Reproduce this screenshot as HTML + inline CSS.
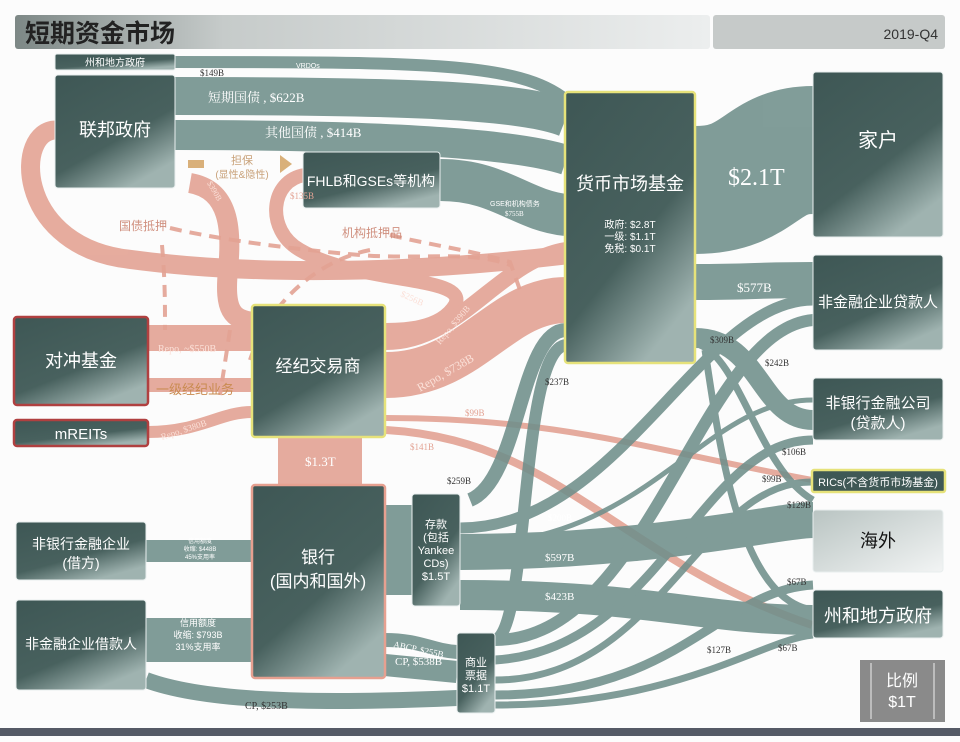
<!DOCTYPE html>
<html><head><meta charset="utf-8">
<style>
html,body{margin:0;padding:0;background:#fff;}
svg{display:block;}
text{font-family:"Liberation Sans","Noto Sans CJK SC",sans-serif;}
.serif text{font-family:"Liberation Serif","Noto Serif CJK SC",serif;}
</style></head><body>
<svg width="960" height="742" viewBox="0 0 960 742" xmlns="http://www.w3.org/2000/svg">
<defs>
<linearGradient id="nd" x1="0" y1="0" x2="0.6" y2="1">
<stop offset="0" stop-color="#3e5755"/><stop offset="0.65" stop-color="#48615e"/><stop offset="1" stop-color="#9fb3b0"/>
</linearGradient>
<linearGradient id="tb" x1="0" y1="0" x2="1" y2="0">
<stop offset="0" stop-color="#7d8886"/><stop offset="0.3" stop-color="#c6cbca"/><stop offset="1" stop-color="#eceeee"/>
</linearGradient>
<linearGradient id="hw" x1="0" y1="0" x2="1" y2="1">
<stop offset="0" stop-color="#b9c4c2"/><stop offset="1" stop-color="#f2f4f4"/>
</linearGradient>
</defs>
<rect width="960" height="742" fill="#fcfcfc"/>
<!-- title -->
<rect x="15" y="15" width="695" height="34" rx="3" fill="url(#tb)"/>
<text x="25" y="42" font-size="25" font-weight="bold" fill="#222">短期资金市场</text>
<rect x="713" y="15" width="232" height="34" rx="3" fill="#c6cac9"/>
<text x="938" y="39" font-size="14" fill="#333" text-anchor="end">2019-Q4</text>

<g fill="none" stroke-linecap="butt">
<!-- PINK FLOWS -->
<g stroke="#e3a394" opacity="0.9">
<path d="M56,130 C15,130 15,240 120,258 C260,278 420,272 566,255" stroke-width="19"/>
<path d="M190,183 C230,190 232,230 228,270 C224,310 232,320 254,322" stroke-width="20"/>
<path d="M305,175 C270,180 265,230 300,250 C360,285 470,275 455,305 C440,330 400,330 386,330" stroke-width="14"/>
<path d="M386,342 C460,342 500,260 566,250" stroke-width="16"/>
<path d="M386,375 C470,375 500,300 566,300" stroke-width="46"/>
<path d="M148,338 C200,338 220,338 252,338" stroke-width="26"/>
<path d="M148,385 L252,385" stroke-width="14"/>
<path d="M148,432 C200,432 220,412 252,412" stroke-width="12"/>
<path d="M386,418 C560,418 650,450 812,480" stroke-width="6"/>
<path d="M386,430 C560,440 620,560 812,625" stroke-width="8"/>
<rect x="278" y="437" width="84" height="48" fill="#e3a394" stroke="none"/>
</g>
<!-- dashed collateral -->
<g stroke="#e3a394" stroke-width="4" stroke-dasharray="12,8" opacity="0.9">
<path d="M170,228 C220,240 300,250 360,255 C420,260 470,250 510,265"/>
<path d="M162,245 C165,280 165,300 165,330"/>
<path d="M370,250 C320,260 270,300 250,360"/>
<path d="M390,235 C430,245 470,250 510,262 L520,290"/>
<path d="M230,330 L220,395"/>
</g>
<!-- gold arrows -->
<rect x="188" y="160" width="16" height="8" fill="#d9b07a"/>
<path d="M280,155 L292,164 L280,173 Z" fill="#d9b07a"/>

<!-- TEAL FLOWS -->
<g stroke="#6f8f8b" opacity="0.88">
<path d="M175,62 C420,62 520,62 566,100" stroke-width="12"/>
<path d="M175,96 C400,96 520,100 566,118" stroke-width="38"/>
<path d="M175,135 C400,135 520,145 566,160" stroke-width="30"/>
<path d="M440,180 C500,180 520,210 566,215" stroke-width="42"/>
<path d="M695,190 C760,190 760,150 813,150" stroke-width="128"/>
<path d="M695,282 C750,282 760,280 813,280" stroke-width="36"/>
<path d="M695,338 C760,338 760,420 813,420" stroke-width="20"/>
<path d="M700,345 C740,360 760,470 813,500" stroke-width="7"/>
<path d="M705,350 C720,450 740,600 813,610" stroke-width="7"/>
<path d="M566,330 C520,330 520,480 470,500" stroke-width="14"/>
<path d="M566,345 C520,350 530,620 496,640" stroke-width="12"/>
<path d="M460,528 C620,528 700,300 813,300" stroke-width="11"/>
<path d="M460,545 C650,545 700,400 813,400" stroke-width="5"/>
<path d="M460,552 C650,552 780,520 813,520" stroke-width="36"/>
<path d="M460,595 C650,595 700,620 813,620" stroke-width="30"/>
<path d="M385,550 L412,550" stroke-width="90"/>
<path d="M146,551 L252,551" stroke-width="22"/>
<path d="M146,640 L252,640" stroke-width="44"/>
<path d="M146,680 C200,700 300,705 457,698" stroke-width="16"/>
<path d="M385,640 C420,640 430,650 457,652" stroke-width="14"/>
<path d="M385,665 L457,672" stroke-width="22"/>
<path d="M495,640 C650,640 700,330 813,320" stroke-width="12"/>
<path d="M495,660 C660,650 700,440 813,440" stroke-width="9"/>
<path d="M495,680 C660,680 700,480 813,482" stroke-width="7"/>
<path d="M495,695 C680,695 720,590 813,585" stroke-width="9"/>
<path d="M495,705 C680,705 760,640 813,635" stroke-width="7"/>
</g>
</g>

<!-- NODES -->
<g stroke="#e8eeee" stroke-width="1">
<rect x="55" y="54" width="120" height="16" rx="2" fill="url(#nd)"/>
<rect x="55" y="75" width="120" height="113" rx="3" fill="url(#nd)"/>
<rect x="303" y="152" width="137" height="56" rx="3" fill="url(#nd)"/>
<rect x="813" y="72" width="130" height="165" rx="3" fill="url(#nd)"/>
<rect x="813" y="255" width="130" height="95" rx="3" fill="url(#nd)"/>
<rect x="813" y="378" width="130" height="62" rx="3" fill="url(#nd)"/>
<rect x="813" y="510" width="130" height="62" rx="3" fill="url(#hw)"/>
<rect x="813" y="590" width="130" height="48" rx="3" fill="url(#nd)"/>
<rect x="412" y="494" width="48" height="112" rx="3" fill="url(#nd)"/>
<rect x="457" y="633" width="38" height="80" rx="3" fill="url(#nd)"/>
<rect x="16" y="522" width="130" height="58" rx="3" fill="url(#nd)"/>
<rect x="16" y="600" width="130" height="90" rx="3" fill="url(#nd)"/>
</g>
<rect x="565" y="92" width="130" height="271" rx="3" fill="url(#nd)" stroke="#e6e27a" stroke-width="2.5"/>
<rect x="252" y="305" width="133" height="132" rx="3" fill="url(#nd)" stroke="#e6e27a" stroke-width="2.5"/>
<rect x="252" y="485" width="133" height="193" rx="3" fill="url(#nd)" stroke="#e6a090" stroke-width="2.5"/>
<rect x="14" y="317" width="134" height="88" rx="3" fill="url(#nd)" stroke="#b04040" stroke-width="2.5"/>
<rect x="14" y="420" width="134" height="26" rx="3" fill="url(#nd)" stroke="#b04040" stroke-width="2.5"/>
<rect x="812" y="470" width="133" height="22" rx="2" fill="#3f5855" stroke="#e6e27a" stroke-width="2.5"/>
<rect x="860" y="660" width="85" height="62" fill="#8a8a8a"/>
<g stroke="#eee" stroke-width="1"><line x1="871" y1="663" x2="871" y2="719"/><line x1="934" y1="663" x2="934" y2="719"/></g>
<rect x="0" y="728" width="960" height="8" fill="#555a66"/>

<!-- NODE LABELS -->
<g fill="#fff" text-anchor="middle">
<text x="115" y="66" font-size="10">州和地方政府</text>
<text x="115" y="136" font-size="18">联邦政府</text>
<text x="371" y="186" font-size="14">FHLB和GSEs等机构</text>
<text x="630" y="190" font-size="18">货币市场基金</text>
<text x="630" y="228" font-size="10">政府: $2.8T</text>
<text x="630" y="240" font-size="10">一级: $1.1T</text>
<text x="630" y="252" font-size="10">免税: $0.1T</text>
<text x="878" y="147" font-size="20">家户</text>
<text x="878" y="307" font-size="15">非金融企业贷款人</text>
<text x="878" y="408" font-size="15">非银行金融公司</text>
<text x="878" y="428" font-size="15">(贷款人)</text>
<text x="878" y="486" font-size="11">RICs(不含货币市场基金)</text>
<text x="878" y="622" font-size="18">州和地方政府</text>
<text x="318" y="372" font-size="17">经纪交易商</text>
<text x="318" y="563" font-size="17">银行</text>
<text x="318" y="587" font-size="17">(国内和国外)</text>
<text x="81" y="367" font-size="18">对冲基金</text>
<text x="81" y="439" font-size="15">mREITs</text>
<text x="81" y="549" font-size="14">非银行金融企业</text>
<text x="81" y="568" font-size="14">(借方)</text>
<text x="81" y="649" font-size="14">非金融企业借款人</text>
<text x="436" y="528" font-size="11">存款</text>
<text x="436" y="541" font-size="11">(包括</text>
<text x="436" y="554" font-size="11">Yankee</text>
<text x="436" y="567" font-size="11">CDs)</text>
<text x="436" y="580" font-size="11">$1.5T</text>
<text x="476" y="666" font-size="11">商业</text>
<text x="476" y="679" font-size="11">票据</text>
<text x="476" y="692" font-size="11">$1.1T</text>
<text x="902" y="686" font-size="16">比例</text>
<text x="902" y="707" font-size="16">$1T</text>
</g>
<text x="878" y="547" font-size="18" fill="#111" text-anchor="middle">海外</text>

<!-- FLOW LABELS -->
<g class="serif" fill="#fff">
<text x="208" y="102" font-size="13">短期国债 , $622B</text>
<text x="265" y="137" font-size="13">其他国债 , $414B</text>
<text x="728" y="185" font-size="24">$2.1T</text>
<text x="737" y="292" font-size="13">$577B</text>
<text x="305" y="466" font-size="13">$1.3T</text>
<text x="545" y="561" font-size="11">$597B</text>
<text x="545" y="600" font-size="11">$423B</text>
<text x="548" y="521" font-size="9">$200B</text>
<text x="395" y="665" font-size="11">CP, $538B</text>
<text x="393" y="647" font-size="9" transform="rotate(12 393 647)">ABCP, $255B</text>
<text x="158" y="352" font-size="10" fill="#fbe0d8">Repo, ~$550B</text>
<text x="162" y="440" font-size="9" fill="#fbe0d8" transform="rotate(-18 162 440)">Repo, $380B</text>
<text x="420" y="392" font-size="12" fill="#fbe0d8" transform="rotate(-30 420 392)">Repo, $738B</text>
<text x="440" y="345" font-size="9" fill="#fbe0d8" transform="rotate(-50 440 345)">Repo, $390B</text>
<text x="400" y="296" font-size="9" fill="#fbe0d8" transform="rotate(25 400 296)">$256B</text>
<text x="207" y="183" font-size="8" fill="#fbe0d8" transform="rotate(60 207 183)">$390B</text>
</g>
<g class="serif" fill="#333" font-size="9">
<text x="200" y="76">$149B</text>
<text x="505" y="216" font-size="7" fill="#fff">$755B</text>
<text x="710" y="343">$309B</text>
<text x="545" y="385">$237B</text>
<text x="765" y="366">$242B</text>
<text x="782" y="455">$106B</text>
<text x="762" y="482">$99B</text>
<text x="787" y="508">$129B</text>
<text x="447" y="484">$259B</text>
<text x="787" y="585">$67B</text>
<text x="707" y="653">$127B</text>
<text x="778" y="651">$67B</text>
<text x="245" y="709" font-size="10">CP, $253B</text>
<text x="290" y="199" fill="#e3a394">$135B</text>
<text x="465" y="416" fill="#e3a394">$99B</text>
<text x="410" y="450" fill="#e3a394">$141B</text>
</g>
<text x="490" y="206" font-size="7" fill="#fff">GSE和机构债务</text>
<text x="296" y="68" font-size="7" fill="#fff">VRDOs</text>
<g fill="#fff" font-size="6" text-anchor="middle">
<text x="200" y="543">信用额度</text><text x="200" y="551">收缩: $448B</text><text x="200" y="559">45%支用率</text>
</g>
<g fill="#fff" font-size="9" text-anchor="middle">
<text x="198" y="626">信用额度</text><text x="198" y="638">收缩: $793B</text><text x="198" y="650">31%支用率</text>
</g>
<g fill="#d49a7c" font-size="12" text-anchor="middle">
<text x="242" y="164" fill="#c9a27a" font-size="11">担保</text>
<text x="242" y="178" fill="#c9a27a" font-size="10">(显性&amp;隐性)</text>
<text x="143" y="230" fill="#d0907f">国债抵押</text>
<text x="372" y="237" fill="#d0907f">机构抵押品</text>
<text x="195" y="394" fill="#c98b50" font-size="13">一级经纪业务</text>
</g>
</svg>
</body></html>
